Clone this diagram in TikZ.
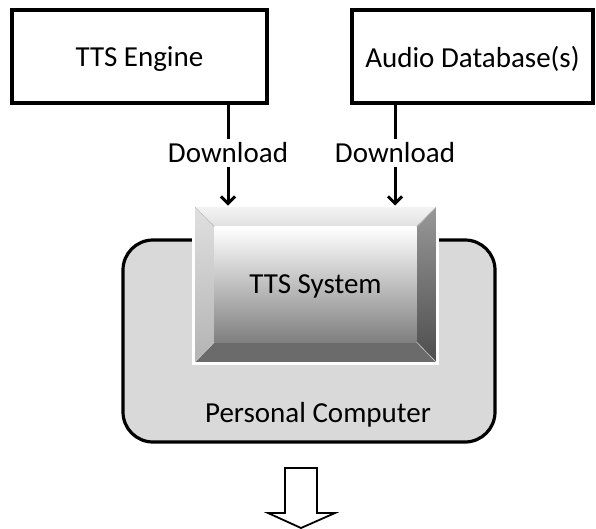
\documentclass[tikz,border=0pt]{standalone}
\usepackage{fontspec}
\setmainfont{Carlito}
\usepackage{tikz}
\usetikzlibrary{positioning, arrows.meta, calc}
\definecolor{pc_gray}{gray}{0.85}
\definecolor{bevel_light}{gray}{0.96}
\definecolor{bevel_dark}{gray}{0.42}
\tikzstyle{arrow} = [line width=3pt,-{Straight Barb[length=7pt,width=14pt,line width=3pt]}]
\tikzstyle{link} = [line width=3pt]
\tikzstyle{source} = [rectangle, draw, line width=3.4pt, minimum height=93pt, text depth=0pt]
\tikzstyle{dl} = [inner sep=0.3333em]

\begin{document}
\begin{tikzpicture}[x=1pt, y=-1pt, font=\fontsize{29}{35}\selectfont]
        \useasboundingbox (0,0) rectangle (596,528);
        % the two things that get downloaded
        \node (engine) [source, minimum width=255pt] at (139.5,56.5) {TTS Engine};
        \node (audio) [source, minimum width=241pt] at (472.5,56.5) {Audio Database(s)};
        % the machine and the bevelled system on it
        \node (pc) [rectangle, rounded corners=30pt, draw, line width=3.2pt, fill=pc_gray, minimum width=372pt, minimum height=202pt] at (309,341) {};
        \node (pc_text) [inner sep=0pt, anchor=base] at (318,422) {Personal Computer};
        \node (tts) [rectangle, draw=white, line width=3pt, minimum width=241pt, minimum height=155pt, inner sep=0pt] at (315.5,284.5) {};
        \node (face) [rectangle, minimum width=202pt, minimum height=115pt, inner sep=0pt] at (tts.center) {};
        \fill[top color=bevel_light, bottom color=white!88!black] (tts.north west) -- (tts.north east) -- (face.north east) -- (face.north west) -- cycle;
        \fill[top color=white!88!black, bottom color=white!70!black] (tts.north west) -- (face.north west) -- (face.south west) -- (tts.south west) -- cycle;
        \fill[top color=white!60!black, bottom color=white!30!black] (tts.north east) -- (face.north east) -- (face.south east) -- (tts.south east) -- cycle;
        \fill[bevel_dark] (tts.south west) -- (face.south west) -- (face.south east) -- (tts.south east) -- cycle;
        \shade[top color=white, bottom color=white!50!black] (face.north west) rectangle (face.south east);
        \draw[white!80!black, line width=0.6pt] (tts.north west) -- (face.north west) (tts.north east) -- (face.north east) (tts.south west) -- (face.south west) (tts.south east) -- (face.south east);
        \draw[white, line width=3pt] (tts.north west) rectangle (tts.south east);
        \node (tts_text) [text depth=0pt] at (face.center) {TTS System};
        % download links
        \node (dl_engine) [dl] at (228,153) {Download};
        \node (dl_audio) [dl] at (395,153) {Download};
        \draw [link] (dl_engine.north |- engine.south) -- (dl_engine.north);
        \draw [arrow] (dl_engine.south) -- (dl_engine.south |- tts.north);
        \draw [link] (dl_audio.north |- audio.south) -- (dl_audio.north);
        \draw [arrow] (dl_audio.south) -- (dl_audio.south |- tts.north);
        % output block arrow
        \draw [line width=1.8pt, fill=white, line join=miter] (285,468) -- (317,468) -- (317,513) -- (335,513) -- (301,528) -- (268,513) -- (285,513) -- cycle;
    \end{tikzpicture}
\end{document}
